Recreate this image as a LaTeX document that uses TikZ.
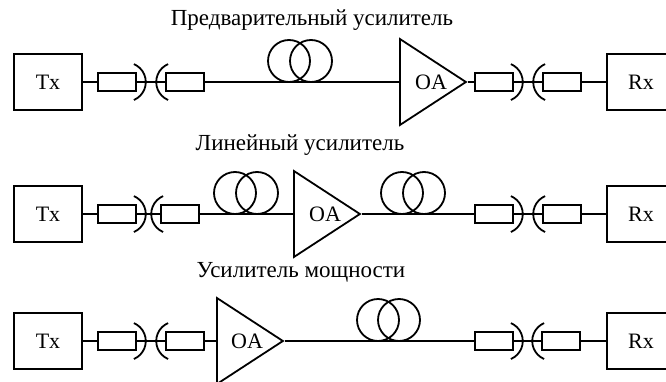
\documentclass[tikz,border=0pt]{standalone}
\usepackage{fontspec}
\setmainfont{Liberation Serif}
\usetikzlibrary{shapes.geometric}

\begin{document}
\begin{tikzpicture}
  [x=1pt,y=1pt,line width=1.8pt,font=\fontsize{22}{26}\selectfont,
   every node/.style={inner sep=0pt},
   box/.style={draw,rectangle,minimum width=68pt,minimum height=56pt},
   plug/.style={draw,rectangle,minimum width=38pt,minimum height=18pt},
   ring/.style={draw,circle,minimum size=42pt},
   amp/.style={draw,isosceles triangle,isosceles triangle apex angle=66.2,
     minimum height=66pt,anchor=lower side},
   title/.style={font=\fontsize{23}{27}\selectfont}]
  \useasboundingbox (0,0) rectangle (666,381);

  % titles
  \node[title] (t1) at (312,361) {Предварительный усилитель};
  \node[title] (t2) at (300,236) {Линейный усилитель};
  \node[title] (t3) at (301,109) {Усилитель мощности};

  % row 1
  \node[box] (tx1) at (48,299) {Tx};
  \node[plug] (pa1) at (117,299) {};
  \node[plug] (pb1) at (185,299) {};
  \node[ring] (r1a) at (289,320) {};
  \node[ring] (r1b) at (311,320) {};
  \node[amp] (oa1) at (399,299) {};
  \node (oa1t) at ([xshift=32pt]oa1.lower side) {OA};
  \node[plug] (pc1) at (494,299) {};
  \node[plug] (pd1) at (562,299) {};
  \node[box] (rx1) at (641,299) {Rx};

  % row 2
  \node[box] (tx2) at (48,167) {Tx};
  \node[plug] (pa2) at (117,167) {};
  \node[plug] (pb2) at (180,167) {};
  \node[ring] (r2a) at (235,188) {};
  \node[ring] (r2b) at (257,188) {};
  \node[amp] (oa2) at (293,167) {};
  \node (oa2t) at ([xshift=32pt]oa2.lower side) {OA};
  \node[ring] (r2c) at (402,188) {};
  \node[ring] (r2d) at (424,188) {};
  \node[plug] (pc2) at (494,167) {};
  \node[plug] (pd2) at (562,167) {};
  \node[box] (rx2) at (641,167) {Rx};

  % row 3
  \node[box] (tx3) at (48,40) {Tx};
  \node[plug] (pa3) at (117,40) {};
  \node[plug] (pb3) at (185,40) {};
  \node[amp] (oa3) at (216,40) {};
  \node (oa3t) at ([xshift=31pt]oa3.lower side) {OA};
  \node[ring] (r3a) at (378,61) {};
  \node[ring] (r3b) at (399,61) {};
  \node[plug] (pc3) at (494,40) {};
  \node[plug] (pd3) at (561,40) {};
  \node[box] (rx3) at (641,40) {Rx};

  \foreach \a/\b in {pa1/pb1,pc1/pd1,pa2/pb2,pc2/pd2,pa3/pb3,pc3/pd3} {
    \draw ([shift={(-3,-18)}]\a.east) arc[start angle=-67,end angle=67,radius=19.5];
    \draw ([shift={(3,-18)}]\b.west) arc[start angle=247,end angle=113,radius=19.5];
    \draw (\a.east) -- (\b.west);
  }

  \foreach \from/\to in {tx1/pa1,pd1/rx1,tx2/pa2,pd2/rx2,tx3/pa3,pd3/rx3,
                         pb1/oa1.lower side,oa1.apex/pc1,pb2/oa2.lower side,
                         oa2.apex/pc2,pb3/oa3.lower side,oa3.apex/pc3}
    \draw (\from) -- (\to);

\end{tikzpicture}
\end{document}
